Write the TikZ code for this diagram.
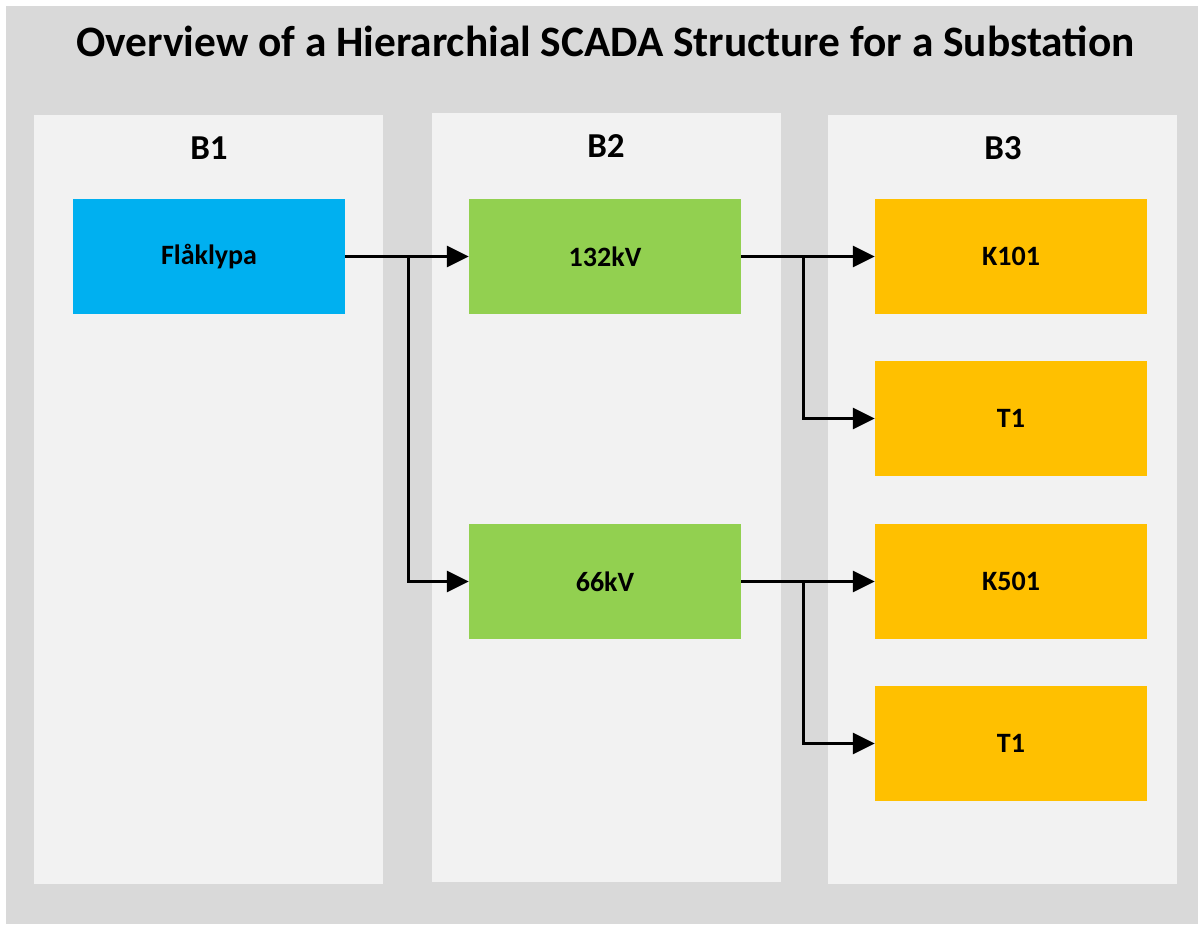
\documentclass[tikz,border=0pt]{standalone}
\usepackage{fontspec}
\setmainfont{Carlito}
\usetikzlibrary{arrows.meta}
\definecolor{bgGray}{HTML}{D9D9D9}
\definecolor{panelGray}{HTML}{F2F2F2}
\definecolor{siteBlue}{HTML}{00B0F0}
\definecolor{levelGreen}{HTML}{92D050}
\definecolor{bayOrange}{HTML}{FFC000}
\tikzset{
  panel/.style={fill=panelGray, draw=none, minimum width=349pt, minimum height=769pt, inner sep=0pt},
  box/.style={draw=none, minimum width=272pt, minimum height=115pt, inner sep=0pt, font=\fontsize{28}{30}\selectfont\bfseries},
  site/.style={box, fill=siteBlue},
  level/.style={box, fill=levelGreen},
  bay/.style={box, fill=bayOrange},
  head/.style={font=\fontsize{35}{38}\selectfont\bfseries},
  arr/.style={line width=3pt, -{Triangle[length=22pt,width=21pt]}}
}
\begin{document}
\begin{tikzpicture}[x=1pt,y=-1pt]
  \useasboundingbox (0,0) rectangle (1198,924);
  % background
  \fill[white] (0,0) rectangle (1198,924);
  \fill[bgGray] (6,6) rectangle (1198,924);
  % title
  \node[font=\fontsize{43.4}{46}\selectfont\bfseries] (title) at (605.5,41) {Overview of a Hierarchial SCADA Structure for a Substation};
  % columns
  \node[panel] (p1) at (208.5,499.5) {};
  \node[panel] (p2) at (606,497.5) {};
  \node[panel] (p3) at (1002.5,499.5) {};
  \node[head] (h1) at (209,148) {B1};
  \node[head] (h2) at (606,146) {B2};
  \node[head] (h3) at (1003,148) {B3};
  % boxes
  \node[site] (fl) at (209,256.5) {Flåklypa};
  \node[level] (v132) at (605,256.5) {132kV};
  \node[level] (v66) at (605,581.5) {66kV};
  \node[bay] (k101) at (1011,256.5) {K101};
  \node[bay] (t1a) at (1011,418.5) {T1};
  \node[bay] (k501) at (1011,581.5) {K501};
  \node[bay] (t1b) at (1011,743.5) {T1};
  % connectors
  \draw[arr] (fl.east) -- (v132.west);
  \draw[arr] (fl.east) -- ++(63,0) |- (v66.west);
  \draw[arr] (v132.east) -- (k101.west);
  \draw[arr] (v132.east) -- ++(62,0) |- (t1a.west);
  \draw[arr] (v66.east) -- (k501.west);
  \draw[arr] (v66.east) -- ++(62,0) |- (t1b.west);
\end{tikzpicture}
\end{document}
